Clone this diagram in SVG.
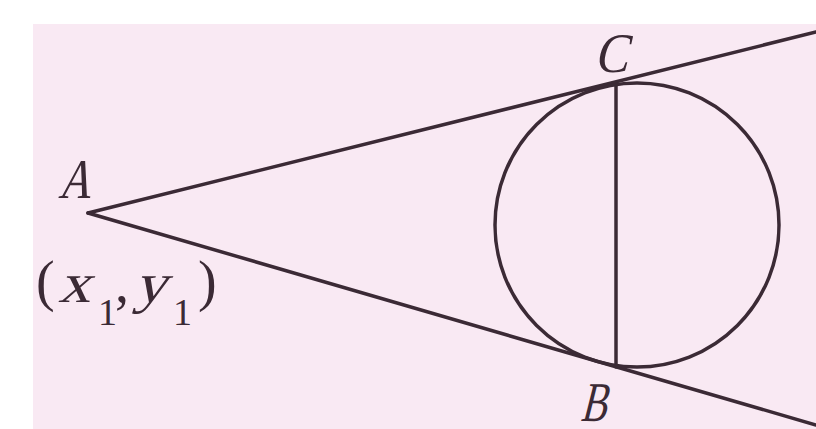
<svg xmlns="http://www.w3.org/2000/svg" width="816" height="429" viewBox="0 0 816 429">
<style>
.ln{stroke:#3b2a35;stroke-width:3.5;fill:none;stroke-linecap:round}
.t{font-family:"Liberation Serif","Times New Roman",serif;font-style:normal;fill:#3b2a35}
.lb{font-size:56px}
.co{font-size:56px}
.sub{font-size:38px}
</style>
<rect x="0" y="0" width="816" height="429" fill="#ffffff"/>
<rect x="33" y="24" width="783" height="405" fill="#f9e9f3"/>
<g id="connectors">
<line class="ln" x1="88" y1="213" x2="816" y2="32"/>
<line class="ln" x1="88" y1="213" x2="816" y2="425"/>
<line class="ln" x1="616" y1="84" x2="616" y2="367"/>
</g>
<g id="circle">
<circle class="ln" cx="637" cy="225" r="142"/>
</g>
<g id="A">
<text class="t lb" transform="translate(58,198) skewX(-14) scale(0.8,1)">A</text>
<text class="t co" x="36" y="300">(</text>
<text class="t co" transform="translate(58,302) skewX(-16) scale(1.15,1)">x</text>
<text class="t sub" x="98" y="325">1</text>
<text class="t co" x="115" y="302">,</text>
<text class="t co" transform="translate(134,302) skewX(-16) scale(1.15,1)">y</text>
<text class="t sub" x="173" y="325">1</text>
<text class="t co" x="198" y="300">)</text>
</g>
<g id="C">
<text class="t lb" transform="translate(594,72) skewX(-14) scale(0.9,1)">C</text>
</g>
<g id="B">
<text class="t lb" transform="translate(580,421) skewX(-14) scale(0.7,1)">B</text>
</g>
</svg>
